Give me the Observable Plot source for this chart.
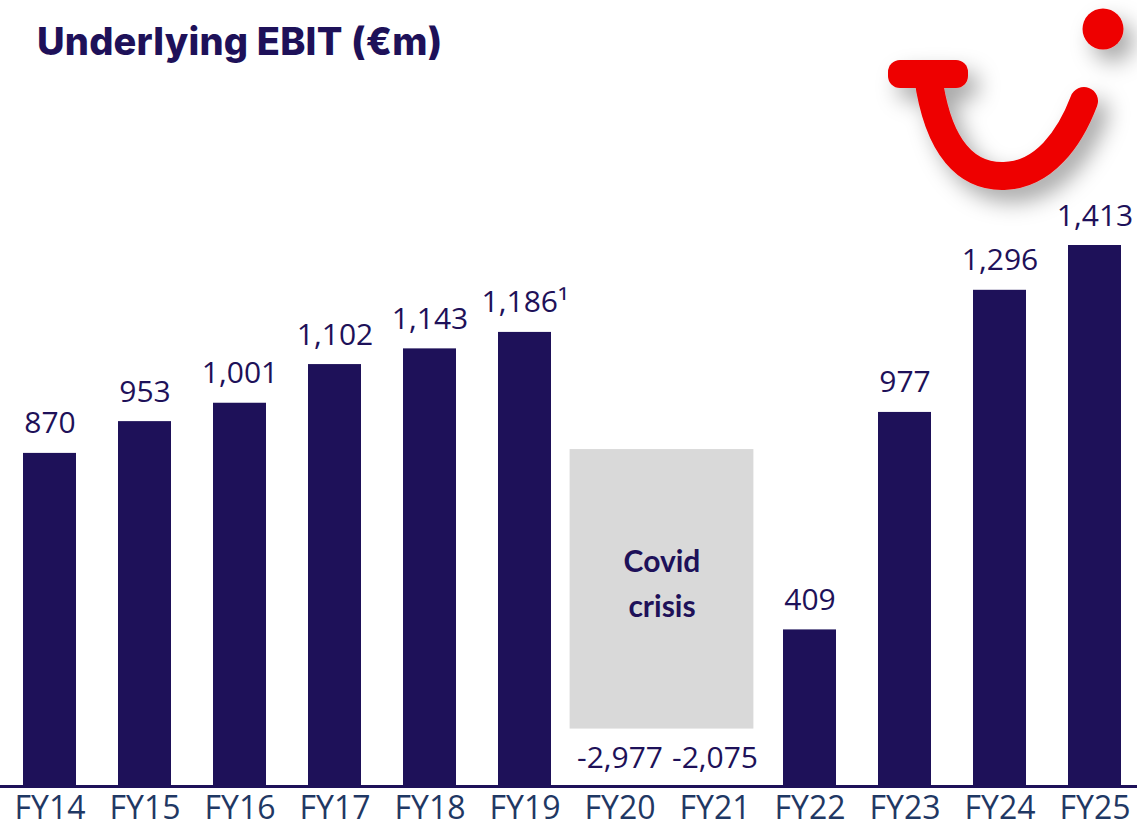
<!DOCTYPE html>
<html>
<head>
<meta charset="utf-8">
<script src="https://cdn.jsdelivr.net/npm/d3@7"></script>
<script src="https://cdn.jsdelivr.net/npm/@observablehq/plot@0.6"></script>
<style>
  html, body { margin: 0; padding: 0; background: #fff; }
  #wrap { position: relative; width: 1137px; height: 832px; overflow: hidden; }
  #title { position: absolute; left: 37px; top: 18px; font-family: Inter, Lato, "Open Sans", sans-serif; font-weight: 800; font-size: 38px; color: #1e1159; letter-spacing: 0.2px; z-index: 2; white-space: nowrap; }
  #chart { position: absolute; left: 0; top: 0; }
  #logo { position: absolute; left: 0; top: 0; z-index: 3; pointer-events: none; }
</style>
</head>
<body>
<div id="wrap">
  <div id="title">Underlying EBIT (€m)</div>
  <div id="chart"></div>
  <svg id="logo" width="1137" height="260" viewBox="0 0 1137 260">
    <defs>
      <filter id="sh" x="-30%" y="-30%" width="160%" height="160%">
        <feDropShadow dx="10" dy="12" stdDeviation="11" flood-color="#000" flood-opacity="0.35"/>
      </filter>
    </defs>
    <g fill="#ee0000" stroke="none" filter="url(#sh)">
      <circle cx="1103" cy="29" r="20.5"/>
      <path d="M 928 76 C 938 150, 968 177, 1004 176 C 1044 175, 1070 138, 1084 101" fill="none" stroke="#ee0000" stroke-width="28" stroke-linecap="round"/>
      <rect x="888" y="60" width="80" height="28" rx="12"/>
    </g>
  </svg>
</div>
<script>
const years = ["FY14","FY15","FY16","FY17","FY18","FY19","FY20","FY21","FY22","FY23","FY24","FY25"];
const ebit = [870, 953, 1001, 1102, 1143, 1186, -2977, -2075, 409, 977, 1296, 1413];
const valueLabels = ["870","953","1,001","1,102","1,143","1,186¹","-2,977","-2,075","409","977","1,296","1,413"];
const covidYears = ["FY20","FY21"];
const covidText = "Covid\ncrisis";
const covidBand = [150, 880];

const data = years.map((year, i) => ({year, value: ebit[i], label: valueLabels[i]}));
const positive = data.filter(d => d.value > 0);
const negative = data.filter(d => d.value < 0);
const box = [{year: covidYears[0], y1: covidBand[0], y2: covidBand[1], text: covidText, mid: (covidBand[0] + covidBand[1]) / 2}];

const navy = "#1e1159";

const chart = Plot.plot({
  width: 1137,
  height: 832,
  marginTop: 0, marginLeft: 0, marginRight: 0, marginBottom: 46,
  style: {fontFamily: "'Open Sans', 'Noto Sans', sans-serif", background: "transparent", overflow: "visible"},
  x: {domain: years, range: [2.5, 1142.5], paddingInner: 0.44, paddingOuter: 0.22, axis: null},
  y: {domain: [0, 1413], range: [786, 245], axis: null},
  marks: [
    Plot.barY(box, {x: "year", y1: "y1", y2: "y2", fill: "#d9d9d9", insetLeft: -23.4, insetRight: -107.4}),
    Plot.text(box, {x: "year", y: "mid", text: "text", dx: 42, dy: -9, fontSize: 30, fontWeight: "bold", fill: navy, lineHeight: 1.5, fontFamily: "Lato, 'Open Sans', sans-serif"}),
    Plot.barY(positive, {x: "year", y: "value", fill: navy}),
    Plot.text(positive, {x: "year", y: "value", text: "label", dy: -20, lineAnchor: "bottom", fontSize: 30, fill: navy}),
    Plot.text(negative, {x: "year", y: () => 0, text: "label", dy: -19, lineAnchor: "bottom", fontSize: 30, fill: navy}),
    Plot.ruleY([0], {stroke: navy, strokeWidth: 3}),
    Plot.axisX({tickSize: 0, tickPadding: 10, fontSize: 32, fill: "#1f3864", stroke: null, label: null})
  ]
});
document.getElementById("chart").appendChild(chart);
</script>
</body>
</html>
